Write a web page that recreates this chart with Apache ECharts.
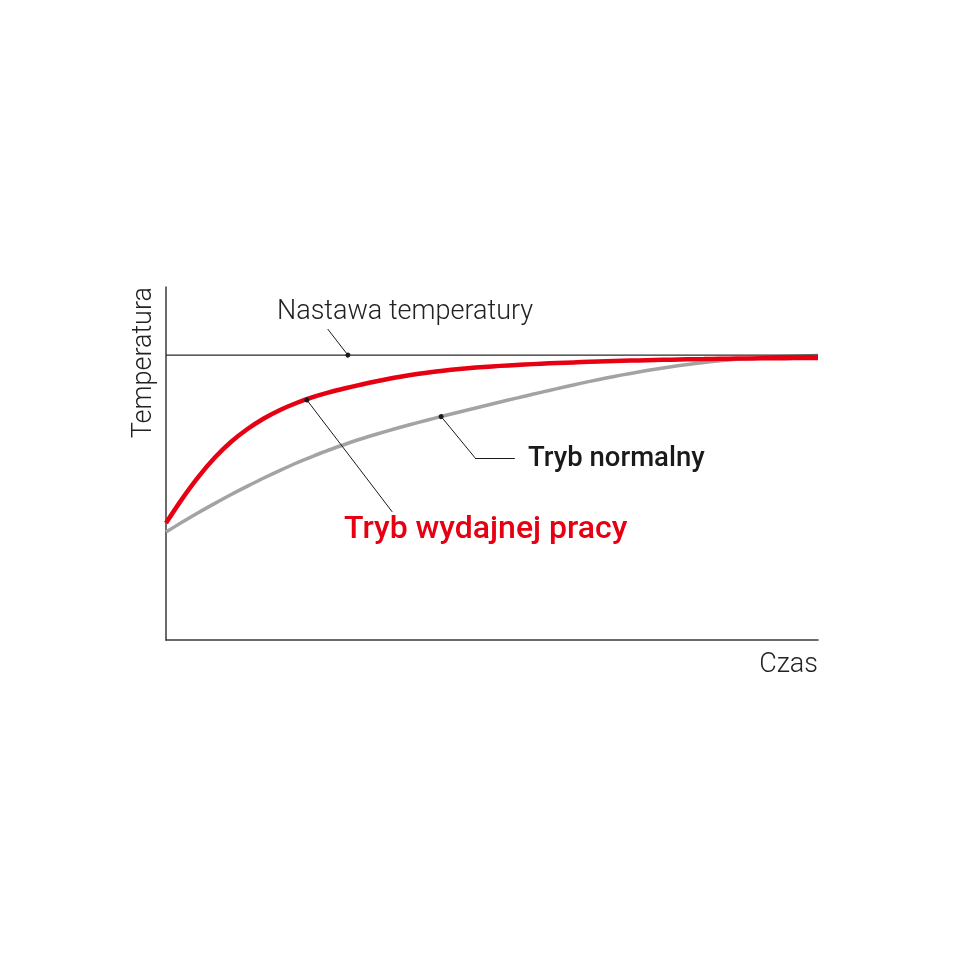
<!DOCTYPE html>
<html>
<head>
<meta charset="utf-8">
<script src="https://cdn.jsdelivr.net/npm/echarts@6/dist/echarts.min.js"></script>
<style>html,body{margin:0;padding:0;background:#fff}#c{width:960px;height:960px}</style>
</head>
<body>
<div id="c"></div>
<script>
// Data (time 0..100, temperature 0..100 in arbitrary units)
const time = [0, 2.5, 5, 7.5, 10, 12.5, 15, 17.5, 20, 22.5, 25, 27.5, 30, 32.5, 35, 37.5, 40, 42.5, 45, 47.5, 50,
              52.5, 55, 57.5, 60, 62.5, 65, 67.5, 70, 72.5, 75, 77.5, 80, 82.5, 85, 87.5, 90, 92.5, 95, 97.5, 100];
const tempRed = [33.14, 40.06, 46.29, 51.70, 56.18, 59.77, 62.75, 65.16, 67.14, 68.78, 70.14, 71.31, 72.38, 73.38, 74.28, 75.05, 75.72, 76.28, 76.77, 77.17, 77.51,
                 77.79, 78.04, 78.26, 78.47, 78.64, 78.80, 78.95, 79.09, 79.21, 79.32, 79.42, 79.52, 79.59, 79.66, 79.72, 79.77, 79.81, 79.85, 79.87, 79.89];
const tempGray = [30.59, 33.40, 36.12, 38.71, 41.22, 43.59, 45.89, 48.06, 50.14, 52.02, 53.82, 55.45, 57.00, 58.42, 59.77, 61.04, 62.27, 63.44, 64.59, 65.73, 66.86,
                  67.97, 69.07, 70.15, 71.22, 72.26, 73.26, 74.21, 75.10, 75.93, 76.71, 77.41, 78.05, 78.61, 79.09, 79.50, 79.83, 80.09, 80.31, 80.46, 80.57];
const timeSet  = [0, 100];
const tempSet  = [80.7, 80.7];
const labelSet = 'Nastawa temperatury';
const labelRed = 'Tryb wydajnej pracy';
const labelGray = 'Tryb normalny';
const axisX = 'Czas';
const axisY = 'Temperatura';

const zip = (a, b) => a.map((v, i) => [v, b[i]]);
const chart = echarts.init(document.getElementById('c'), null, {renderer: 'canvas'});
const leaderStyle = {color: '#1a1a1a', width: 1, type: 'solid'};
const lightFont = '300 27px Roboto';

chart.setOption({
  animation: false,
  backgroundColor: '#ffffff',
  grid: {left: 166, right: 142, top: 287, bottom: 320},
  xAxis: {
    type: 'value', min: 0, max: 100,
    axisLine: {show: true, lineStyle: {color: '#3a3a3a', width: 1.5}},
    axisTick: {show: false}, axisLabel: {show: false}, splitLine: {show: false}
  },
  yAxis: {
    type: 'value', min: 0, max: 100,
    axisLine: {show: true, lineStyle: {color: '#3a3a3a', width: 1.5}},
    axisTick: {show: false}, axisLabel: {show: false}, splitLine: {show: false}
  },
  series: [
    {
      name: labelSet, type: 'line', data: zip(timeSet, tempSet), symbol: 'none', z: 3,
      lineStyle: {color: '#2a2a2a', width: 1.3},
      markLine: {
        silent: true, symbol: ['circle', 'none'], symbolSize: 5, label: {show: false},
        lineStyle: leaderStyle, itemStyle: {color: '#1a1a1a'},
        data: [[{coord: [27.9, 80.7]}, {coord: [24.8, 88.1]}]]
      }
    },
    {
      name: labelGray, type: 'line', data: zip(time, tempGray), symbol: 'none', smooth: 0.3, z: 2,
      lineStyle: {color: '#a3a3a3', width: 3.5},
      markLine: {
        silent: true, symbol: ['circle', 'none'], symbolSize: 5, label: {show: false},
        lineStyle: leaderStyle, itemStyle: {color: '#1a1a1a'},
        data: [
          [{coord: [42.2, 63.3]}, {coord: [47.4, 51.6]}],
          [{coord: [47.4, 51.6], symbol: 'none'}, {coord: [53.5, 51.6]}]
        ]
      }
    },
    {
      name: labelRed, type: 'line', data: zip(time, tempRed), symbol: 'none', smooth: 0.3, z: 4,
      lineStyle: {color: '#e60012', width: 4.5},
      markLine: {
        silent: true, symbol: ['circle', 'none'], symbolSize: 5, label: {show: false},
        lineStyle: leaderStyle, itemStyle: {color: '#1a1a1a'},
        data: [[{coord: [21.6, 68.0]}, {coord: [34.7, 36.3]}]]
      }
    }
  ],
  graphic: [
    {type: 'text', x: 277, y: 312, style: {text: labelSet, font: lightFont, fill: '#222', align: 'left', verticalAlign: 'middle'}},
    {type: 'text', x: 528, y: 459, style: {text: labelGray, font: '500 27.5px Roboto', fill: '#1a1a1a', align: 'left', verticalAlign: 'middle'}},
    {type: 'text', x: 344, y: 530, style: {text: labelRed, font: '500 32px Roboto', fill: '#e60012', align: 'left', verticalAlign: 'middle'}},
    {type: 'text', x: 818, y: 665, style: {text: axisX, font: lightFont, fill: '#222', align: 'right', verticalAlign: 'middle'}},
    {type: 'text', x: 144, y: 287, rotation: Math.PI / 2, style: {text: axisY, font: lightFont, fill: '#222', align: 'right', verticalAlign: 'middle'}}
  ]
});
</script>
</body>
</html>
